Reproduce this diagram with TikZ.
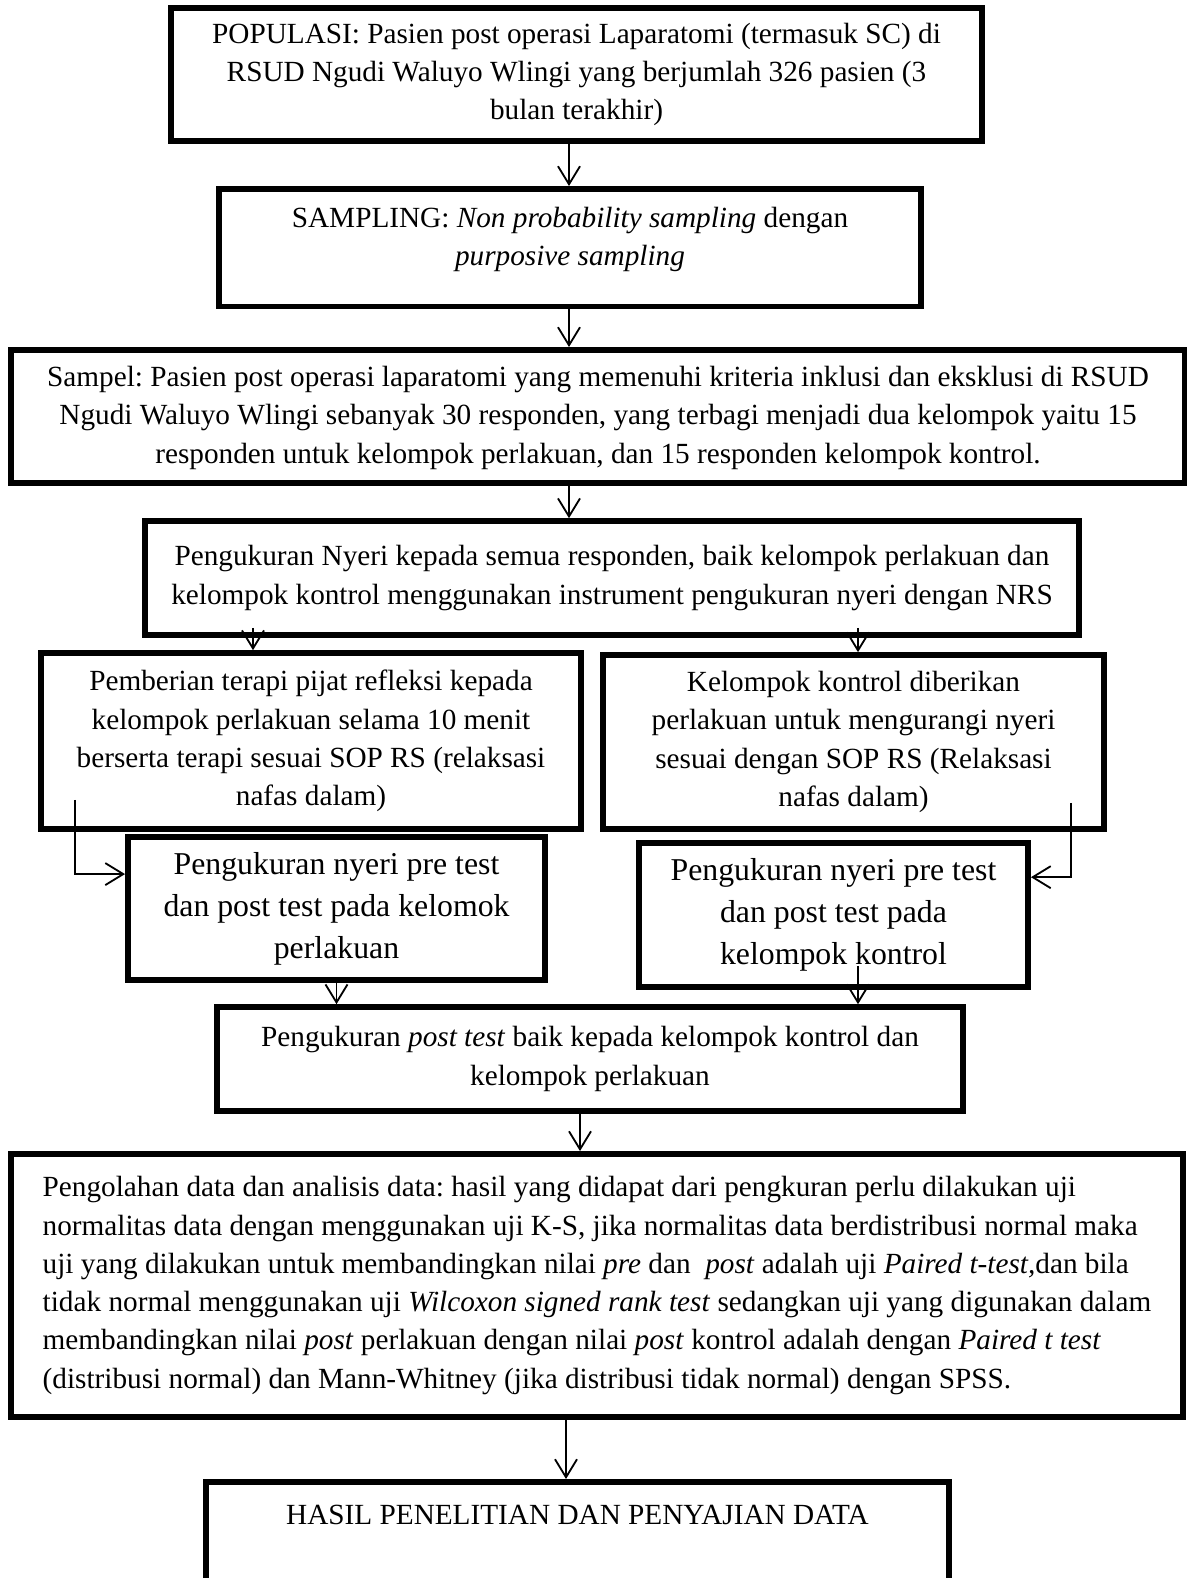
\documentclass[tikz,border=0pt]{standalone}
\usepackage{fontspec}
\setmainfont{Liberation Serif}
\usetikzlibrary{arrows.meta, calc}
\frenchspacing

\begin{document}
\begin{tikzpicture}[
  x=0.025cm, y=-0.025cm,
  font=\fontsize{20.8}{27.2}\selectfont,
  box/.style={draw, fill=white, line width=4pt, align=center, inner sep=4pt},
  big/.style={box, font=\fontsize{22.6}{29.8}\selectfont},
  arr/.style={-{Straight Barb[length=4.5mm, width=5.5mm]}, line width=1.3pt},
]
\useasboundingbox (0,0) rectangle (1186,1578);

% main column
\node[box, minimum width=20.28cm, minimum height=3.33cm] (pop) at (576.5,74.5)
  {POPULASI: Pasien post operasi Laparatomi (termasuk SC) di\\
   RSUD Ngudi Waluyo Wlingi yang berjumlah 326 pasien (3\\
   bulan terakhir)};
\node[box, anchor=north, minimum width=17.55cm, text height=1.78cm, text depth=0.88cm] (samp) at (570,186)
  {SAMPLING: \textit{Non probability sampling} dengan\\
   \textit{purposive sampling}};
\node[box, anchor=north, minimum width=29.35cm, text height=2.69cm, text depth=0.36cm] (sampel) at (598,347)
  {Sampel: Pasien post operasi laparatomi yang memenuhi kriteria inklusi dan eksklusi di RSUD\\
   Ngudi Waluyo Wlingi sebanyak 30 responden, yang terbagi menjadi dua kelompok yaitu 15\\
   responden untuk kelompok perlakuan, dan 15 responden kelompok kontrol.};
\node[box, minimum width=23.35cm, minimum height=2.85cm] (meas) at (612,578)
  {Pengukuran Nyeri kepada semua responden, baik kelompok perlakuan dan\\
   kelompok kontrol menggunakan instrument pengukuran nyeri dengan NRS};

% two groups
\node[box, minimum width=13.5cm, minimum height=4.4cm] (treat) at (311,741)
  {Pemberian terapi pijat refleksi kepada\\
   kelompok perlakuan selama 10 menit\\
   berserta terapi sesuai SOP RS (relaksasi\\
   nafas dalam)};
\node[box, minimum width=12.53cm, minimum height=4.35cm] (ctrl) at (853.5,742)
  {Kelompok kontrol diberikan\\
   perlakuan untuk mengurangi nyeri\\
   sesuai dengan SOP RS (Relaksasi\\
   nafas dalam)};
\node[big, minimum width=10.43cm, minimum height=3.58cm] (preL) at (336.5,908.5)
  {Pengukuran nyeri pre test\\
   dan post test pada kelomok\\
   perlakuan};
\node[big, minimum width=9.73cm, minimum height=3.6cm] (preR) at (833.5,915)
  {Pengukuran nyeri pre test\\
   dan post test pada\\
   kelompok kontrol};

\node[box, minimum width=18.65cm, minimum height=2.6cm] (post) at (590,1059)
  {Pengukuran \textit{post test} baik kepada kelompok kontrol dan\\
   kelompok perlakuan};
\node[box, align=left, minimum width=29.3cm, minimum height=6.58cm] (anal) at (597,1285.5)
  {Pengolahan data dan analisis data: hasil yang didapat dari pengkuran perlu dilakukan uji\\
   normalitas data dengan menggunakan uji K-S, jika normalitas data berdistribusi normal maka\\
   uji yang dilakukan untuk membandingkan nilai \textit{pre} dan \ \textit{post} adalah uji \textit{Paired t-test,}dan bila\\
   tidak normal menggunakan uji \textit{Wilcoxon signed rank test} sedangkan uji yang digunakan dalam\\
   membandingkan nilai \textit{post} perlakuan dengan nilai \textit{post} kontrol adalah dengan \textit{Paired t test}\\
   (distribusi normal) dan Mann-Whitney (jika distribusi tidak normal) dengan SPSS.};
\node[box, anchor=north, minimum width=18.58cm, text height=0.93cm, text depth=5cm] (hasil) at (577.5,1479)
  {HASIL PENELITIAN DAN PENYAJIAN DATA};

% links down the middle
\foreach \a/\b/\x in {pop/samp/569, samp/sampel/569, sampel/meas/569, post/anal/580, anal/hasil/566}
  \draw[arr] (\a.south -| \x,0) -- (\b.north -| \x,0);

% split into both groups
\draw[arr, shorten <=-0.25cm] (meas.south -| 253,0) -- (treat.north -| 253,0);
\draw[arr, shorten <=-0.25cm] (meas.south -| 858,0) -- (ctrl.north -| 858,0);
\draw[arr] (treat.south west) ++(37,-32) |- ($(preL.north west)+(0,40)$);
\draw[arr] (ctrl.south east) ++(-36,-29) |- ($(preR.north east)+(0,37)$);

% back together
\draw[arr] (preL.south) -- (preL.south |- post.north);
\draw[arr] (preR.south -| 858,0) ++(0,-24) -- (post.north -| 858,0);
\end{tikzpicture}
\end{document}
